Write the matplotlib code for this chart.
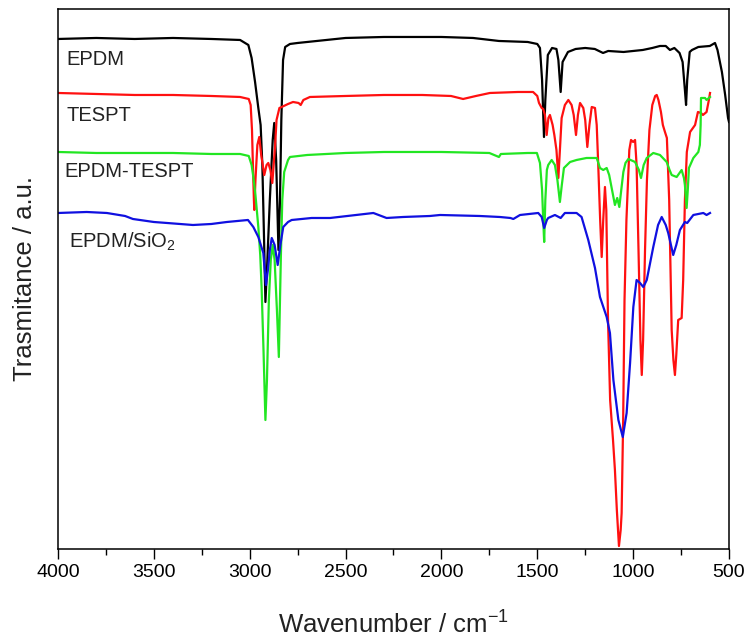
import numpy as np
import matplotlib
matplotlib.use('Agg')
import matplotlib.pyplot as plt
from matplotlib.ticker import MultipleLocator

plt.rcParams['font.family'] = ['Liberation Sans', 'DejaVu Sans']
plt.rcParams['mathtext.fontset'] = 'custom'
plt.rcParams['mathtext.rm'] = 'Liberation Sans'
plt.rcParams['mathtext.it'] = 'Liberation Sans:italic'

# spectra: wavenumber (cm-1) and transmittance (a.u., stacked)
epdm_wn = [4000, 3800, 3600, 3400, 3200, 3050, 3007, 2990, 2972, 2955, 2943, 2934, 2925, 2918,
           2910, 2895, 2880, 2872, 2862, 2850, 2842, 2835, 2826, 2815, 2790, 2750, 2700, 2600,
           2500, 2300, 2100, 2000, 1835, 1700, 1550, 1500, 1486, 1475, 1465, 1458, 1445, 1423,
           1400, 1390, 1378, 1368, 1340, 1300, 1250, 1200, 1157, 1130, 1050, 1000, 950, 900,
           860, 830, 808, 785, 758, 742, 730, 724, 718, 705, 693, 660, 600, 573, 560, 537,
           520, 505, 500]
epdm_t = [510, 511, 510, 511, 510, 509, 504, 491, 467, 441, 424, 384, 309, 247,
          279, 349, 409, 426, 389, 299, 349, 429, 489, 502, 505, 506, 507, 509,
          511, 512, 512, 512, 511, 508, 507, 505, 501, 469, 412, 449, 494, 501,
          500, 489, 457, 487, 497, 500, 501, 500, 496, 498, 497, 498, 499, 501,
          503, 503, 499, 501, 496, 487, 459, 444, 469, 497, 499, 502, 503, 506, 499, 477,
          454, 431, 427]

tespt_wn = [4000, 3800, 3600, 3400, 3200, 3050, 3005, 2995, 2988, 2984, 2978, 2976, 2970, 2960,
            2950, 2940, 2924, 2912, 2903, 2892, 2882, 2875, 2868, 2860, 2845, 2833, 2800, 2774,
            2745, 2734, 2720, 2686, 2500, 2300, 2100, 1950, 1887, 1820, 1747, 1600, 1522, 1500,
            1491, 1477, 1469, 1460, 1451, 1442, 1434, 1420, 1411, 1400, 1390, 1382, 1373, 1356,
            1338, 1321, 1310, 1298, 1288, 1277, 1260, 1250, 1239, 1228, 1216, 1199, 1190, 1182,
            1172, 1164, 1156, 1147, 1140, 1131, 1120, 1105, 1095, 1085, 1074, 1065, 1060, 1052,
            1045, 1035, 1020, 1011, 1000, 990, 982, 972, 962, 955, 948, 938, 928, 915, 900, 885,
            877, 868, 855, 845, 834, 824, 812, 799, 790, 782, 775, 765, 747, 739, 730, 720, 703,
            677, 662, 646, 636, 617, 605, 599]
tespt_t = [456, 455, 454, 454, 453, 452, 450, 444, 419, 389, 349, 339, 369, 404,
           412, 394, 374, 384, 386, 379, 366, 384, 402, 429, 441, 442, 445, 447,
           446, 444, 449, 452, 453, 454, 454, 453, 450, 453, 456, 457, 457, 453,
           446, 441, 440, 434, 414, 431, 434, 424, 414, 399, 371, 399, 431, 444,
           449, 444, 434, 414, 434, 446, 441, 429, 402, 424, 442, 441, 424, 384,
           329, 292, 329, 362, 339, 229, 149, 109, 79, 39, 3, 19, 36, 129,
           249, 329, 399, 409, 407, 409, 384, 299, 209, 174, 209, 299, 369, 419, 444, 453,
           454, 449, 437, 424, 417, 411, 349, 219, 189, 174, 194, 229, 231, 269, 349, 397, 417,
           424, 437, 436, 434, 437, 449, 456]

epdm_tespt_wn = [4000, 3800, 3600, 3400, 3200, 3050, 3005, 2990, 2981, 2970, 2955, 2945, 2938,
                 2928, 2918, 2910, 2900, 2890, 2880, 2870, 2858, 2848, 2842, 2837, 2830, 2820,
                 2800, 2790, 2700, 2500, 2300, 2000, 1750, 1700, 1690, 1550, 1502, 1486, 1475,
                 1469, 1464, 1458, 1450, 1443, 1425, 1408, 1395, 1382, 1372, 1361, 1329, 1295,
                 1243, 1190, 1173, 1156, 1138, 1125, 1112, 1095, 1083, 1072, 1062, 1051, 1040,
                 1025, 990, 970, 959, 945, 929, 895, 860, 825, 810, 799, 773, 747, 735, 730, 721,
                 715, 709, 686, 660, 652, 648, 646, 625, 617, 599]
epdm_tespt_t = [397, 396, 396, 396, 395, 395, 393, 384, 372, 354, 322, 294, 262,
                199, 129, 169, 249, 289, 304, 289, 239, 192, 249, 296, 349, 377,
                389, 392, 394, 396, 397, 397, 396, 392, 395, 396, 396, 386, 359,
                329, 307, 349, 379, 384, 389, 384, 369, 347, 364, 381, 387, 389,
                391, 391, 381, 379, 381, 374, 361, 344, 351, 342, 359, 377, 386,
                390, 387, 379, 371, 384, 391, 396, 394, 387, 379, 374, 372, 379, 371, 364, 341,
                359, 381, 391, 397, 404, 424, 451, 451, 449, 452]

epdm_sio2_wn = [4000, 3850, 3745, 3650, 3609, 3500, 3431, 3296, 3200, 3119, 3009, 2981, 2955,
                2929, 2915, 2905, 2895, 2885, 2870, 2854, 2840, 2825, 2800, 2781, 2677, 2581,
                2400, 2355, 2286, 2200, 2060, 2007, 1800, 1695, 1640, 1625, 1590, 1495, 1477,
                1464, 1450, 1443, 1408, 1378, 1356, 1295, 1269, 1234, 1199, 1173, 1138, 1121,
                1103, 1077, 1054, 1034, 1016, 999, 982, 964, 947, 929, 895, 870, 851, 830, 817,
                791, 775, 756, 730, 718, 686, 634, 617, 599]
epdm_sio2_t = [336, 337, 336, 333, 330, 327, 326, 324, 325, 327, 329, 322, 312,
               296, 264, 279, 299, 311, 304, 284, 304, 322, 327, 329, 331, 331,
               335, 336, 331, 332, 333, 334, 333, 332, 331, 330, 334, 336, 332,
               321, 329, 331, 334, 331, 336, 336, 332, 309, 281, 252, 232, 216,
               169, 129, 112, 136, 186, 242, 269, 266, 262, 269, 302, 324, 332, 324, 316,
               294, 304, 319, 327, 326, 334, 336, 334, 336]

labels = ['EPDM', 'TESPT', 'EPDM-TESPT', 'EPDM/SiO$_2$']
colors = ['#000000', '#ff1010', '#22e622', '#1010e0']
label_pos = [(3955, 484), (3955, 428), (3965, 372), (3945, 301)]

fig = plt.figure(figsize=(7.49, 6.41), dpi=100)
ax = fig.add_axes([0.0774, 0.1435, 0.8959, 0.8425])

series = [(epdm_wn, epdm_t), (tespt_wn, tespt_t), (epdm_tespt_wn, epdm_tespt_t),
          (epdm_sio2_wn, epdm_sio2_t)]
for (wn, t), c in zip(series, colors):
    ax.plot(wn, t, color=c, lw=1.6)

for lab, (x, y) in zip(labels, label_pos):
    ax.text(x, y, lab, fontsize=14.5, va='baseline', ha='left', color='#222222')

ax.set_xlim(4000, 500)
ax.set_ylim(0, 540)
ax.xaxis.set_major_locator(MultipleLocator(500))
ax.xaxis.set_minor_locator(MultipleLocator(250))
ax.tick_params(axis='x', which='major', direction='out', length=7, width=1.0,
               labelsize=14, pad=4, top=False)
ax.tick_params(axis='x', which='minor', direction='out', length=4.3, width=1.0, top=False)
ax.set_yticks([])
for s in ax.spines.values():
    s.set_linewidth(1.1)

ax.set_xlabel('Wavenumber / cm$^{-1}$', fontsize=18.5, color='#222222')
ax.set_ylabel('Trasmitance / a.u.', fontsize=18.5, color='#222222')
ax.yaxis.set_label_coords(-0.031, 0.5)
ax.xaxis.set_label_coords(0.5, -0.115)

plt.savefig('out.png', dpi=100)
